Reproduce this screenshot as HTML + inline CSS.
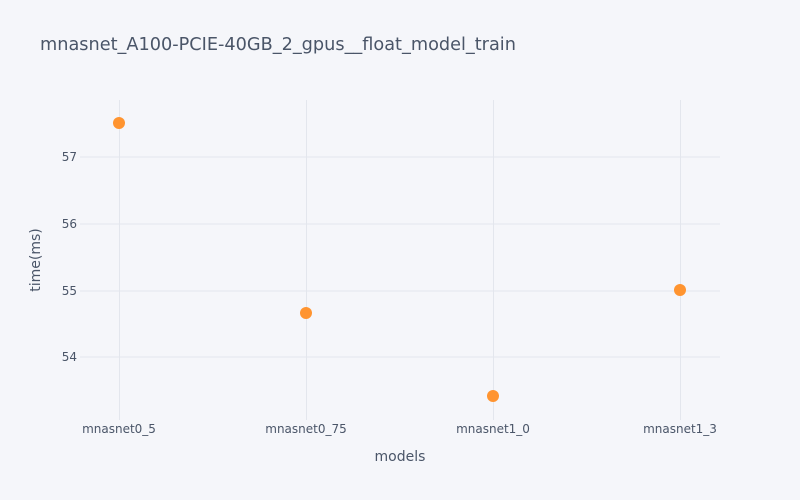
<!DOCTYPE html>
<html><head><meta charset="utf-8"><style>
html,body{margin:0;padding:0;background:#f5f6fa;}
svg{display:block;font-family:"DejaVu Sans","Liberation Sans",sans-serif;}
</style></head><body>
<svg width="800" height="500" viewBox="0 0 800 500">
<rect width="800" height="500" fill="#f5f6fa"/>
<g stroke="#e3e6ed" stroke-width="1">
<line x1="80" y1="157" x2="720" y2="157"/>
<line x1="80" y1="224" x2="720" y2="224"/>
<line x1="80" y1="291" x2="720" y2="291"/>
<line x1="80" y1="357" x2="720" y2="357"/>
<line x1="119.5" y1="100" x2="119.5" y2="420"/>
<line x1="306.5" y1="100" x2="306.5" y2="420"/>
<line x1="493.5" y1="100" x2="493.5" y2="420"/>
<line x1="680.5" y1="100" x2="680.5" y2="420"/>
</g>
<text x="40" y="50" font-size="17.7" fill="#4a5568">mnasnet_A100-PCIE-40GB_2_gpus__float_model_train</text>
<g font-size="12" fill="#4a5568" text-anchor="end">
<text x="77" y="161">57</text>
<text x="77" y="228">56</text>
<text x="77" y="295">55</text>
<text x="77" y="361">54</text>
</g>
<g font-size="12" fill="#4a5568" text-anchor="middle">
<text x="119" y="433">mnasnet0_5</text>
<text x="306" y="433">mnasnet0_75</text>
<text x="493" y="433">mnasnet1_0</text>
<text x="680" y="433">mnasnet1_3</text>
</g>
<text x="400" y="461" font-size="14" fill="#4a5568" text-anchor="middle">models</text>
<text transform="translate(40,260) rotate(-90)" font-size="14" fill="#4a5568" text-anchor="middle">time(ms)</text>
<g fill="#ff9430">
<circle cx="119" cy="123" r="6"/>
<circle cx="306" cy="313" r="6"/>
<circle cx="493" cy="396" r="6"/>
<circle cx="680" cy="290" r="6"/>
</g>
</svg>
</body></html>
